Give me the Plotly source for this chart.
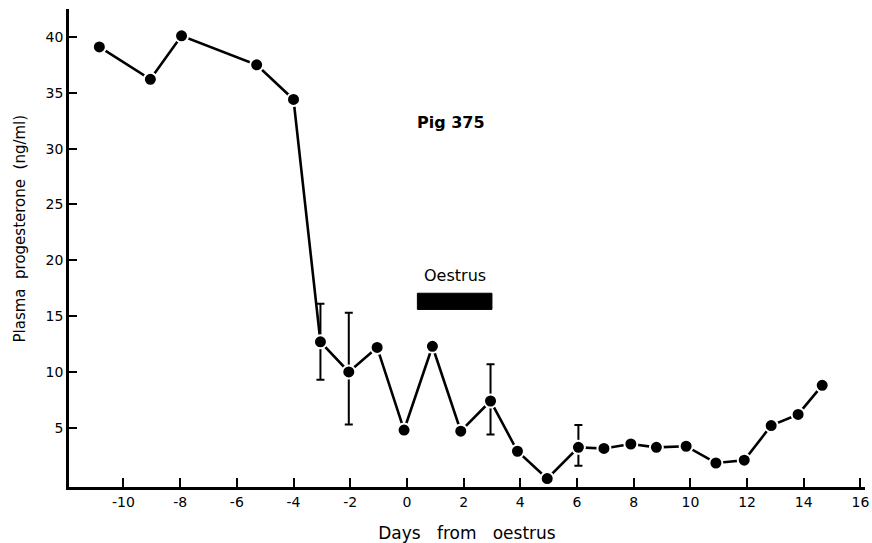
import plotly.graph_objects as go

# Plasma progesterone profile, Pig 375
days = [-10.85, -9.05, -7.95, -5.3, -4.0, -3.05, -2.05, -1.05, -0.1, 0.9, 1.9,
        2.95, 3.9, 4.95, 6.05, 6.95, 7.9, 8.8, 9.85, 10.9, 11.9, 12.85, 13.8, 14.65]
progesterone = [39.1, 36.2, 40.1, 37.5, 34.4, 12.7, 10.0, 12.2, 4.8, 12.3, 4.7,
                7.4, 2.9, 0.45, 3.25, 3.15, 3.55, 3.25, 3.35, 1.85, 2.1, 5.2, 6.2, 8.8]
# asymmetric error bars (upper / lower deviation), None where not drawn
err_plus = [None] * 5 + [3.4, 5.3] + [None] * 4 + [3.3, None, None, 2.0] + [None] * 9
err_minus = [None] * 5 + [3.4, 4.7] + [None] * 4 + [3.0, None, None, 1.65] + [None] * 9

x_ticks = [-10, -8, -6, -4, -2, 0, 2, 4, 6, 8, 10, 12, 14, 16]
y_ticks = [5, 10, 15, 20, 25, 30, 35, 40]

oestrus_start, oestrus_end = 0.37, 3.0
oestrus_low, oestrus_high = 15.6, 17.05

FONT = "DejaVu Sans"

fig = go.Figure()

fig.add_trace(go.Scatter(
    x=days, y=progesterone,
    mode="lines+markers",
    line=dict(color="black", width=2.6),
    marker=dict(size=13, color="black", line=dict(color="white", width=2)),
    error_y=dict(type="data", symmetric=False,
                 array=[v if v is not None else 0 for v in err_plus],
                 arrayminus=[v if v is not None else 0 for v in err_minus],
                 color="black", thickness=2, width=4),
    showlegend=False,
))

# Oestrus period bar
fig.add_shape(type="rect", xref="x", yref="y",
              x0=oestrus_start, x1=oestrus_end, y0=oestrus_low, y1=oestrus_high,
              fillcolor="black", line=dict(color="black", width=1))

fig.add_annotation(x=(oestrus_start + oestrus_end) / 2, y=18.6, text="Oestrus",
                   showarrow=False, font=dict(family=FONT, size=16, color="black"))
fig.add_annotation(x=1.55, y=32.3, text="<b>Pig 375</b>",
                   showarrow=False, font=dict(family=FONT, size=16, color="black"))

# y-axis title, placed slightly above the plot's mid-height
fig.add_annotation(xref="paper", yref="paper", x=-0.062, y=0.54,
                   xanchor="center", yanchor="middle", textangle=-90,
                   text="Plasma  progesterone  (ng/ml)", showarrow=False,
                   font=dict(family=FONT, size=15, color="black"))

fig.update_xaxes(
    range=[-11.92, 16.16], tickvals=x_ticks, ticktext=[str(v) for v in x_ticks],
    ticks="inside", ticklen=9, tickwidth=2, tickcolor="black",
    showline=True, linecolor="black", linewidth=2.6,
    showgrid=False, zeroline=False, automargin=False,
    tickfont=dict(family=FONT, size=14, color="black"),
    title=dict(text="Days   from   oestrus", standoff=20,
               font=dict(family=FONT, size=17, color="black")),
)
fig.update_yaxes(
    range=[-0.3, 42.5], tickvals=y_ticks, ticktext=[str(v) for v in y_ticks],
    ticks="inside", ticklen=8, tickwidth=2, tickcolor="black",
    showline=True, linecolor="black", linewidth=2.6,
    showgrid=False, zeroline=False, automargin=False,
    tickfont=dict(family=FONT, size=14, color="black"),
)

fig.update_layout(
    width=872, height=543,
    margin=dict(l=69, r=7, t=9, b=56),
    paper_bgcolor="white", plot_bgcolor="white",
)

fig.write_html("out.html")
